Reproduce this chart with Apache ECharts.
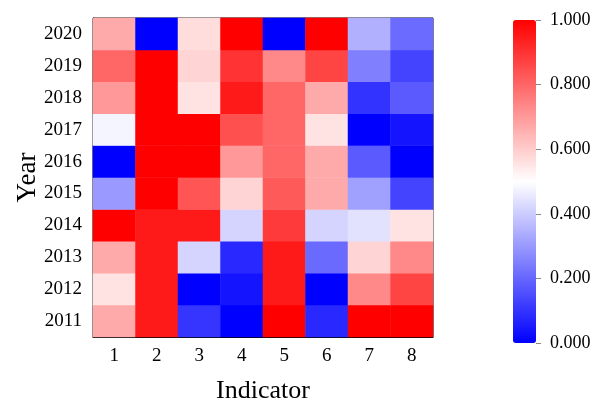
<!DOCTYPE html>
<html><head><meta charset="utf-8">
<script src="https://cdn.jsdelivr.net/npm/echarts@6/dist/echarts.min.js"></script>
<style>html,body{margin:0;padding:0;background:#fff}#c{width:598px;height:409px}</style>
</head><body><div id="c"></div>
<script>
const indicators = ['1','2','3','4','5','6','7','8'];
const years = ['2011','2012','2013','2014','2015','2016','2017','2018','2019','2020'];
const colorTicks = [0, 0.2, 0.4, 0.6, 0.8, 1.0];
// rows by year (2011..2020), values for indicators 1..8
const v2011 = [0.667, 0.95, 0.104, 0.0, 1.0, 0.078, 1.0, 1.0];
const v2012 = [0.557, 0.95, 0.0, 0.04, 0.95, 0.0, 0.733, 0.867];
const v2013 = [0.667, 0.95, 0.416, 0.078, 0.95, 0.208, 0.584, 0.733];
const v2014 = [1.0, 0.95, 0.95, 0.416, 0.886, 0.416, 0.443, 0.557];
const v2015 = [0.30, 1.0, 0.833, 0.584, 0.824, 0.667, 0.314, 0.133];
const v2016 = [0.0, 1.0, 1.0, 0.70, 0.80, 0.667, 0.176, 0.0];
const v2017 = [0.48, 1.0, 1.0, 0.843, 0.80, 0.557, 0.0, 0.04];
const v2018 = [0.70, 1.0, 0.557, 0.95, 0.80, 0.667, 0.10, 0.176];
const v2019 = [0.80, 1.0, 0.584, 0.90, 0.733, 0.867, 0.25, 0.133];
const v2020 = [0.667, 0.0, 0.567, 1.0, 0.0, 1.0, 0.345, 0.21];
const rows = [v2011, v2012, v2013, v2014, v2015, v2016, v2017, v2018, v2019, v2020];

const data = [];
rows.forEach((r, yi) => r.forEach((v, xi) => data.push([xi, yi, v])));

const font = 'Liberation Serif';
const chart = echarts.init(document.getElementById('c'), null, {renderer: 'canvas'});
chart.setOption({
  animation: false,
  textStyle: {fontFamily: font},
  grid: [
    {left: 93, right: 165, top: 18, bottom: 66, show: true, borderColor: '#000', borderWidth: 1, backgroundColor: 'transparent'},
    {left: 536, width: 5, top: 20, height: 323, show: false}
  ],
  xAxis: [
    {type: 'category', data: indicators, gridIndex: 0,
     name: 'Indicator', nameLocation: 'middle', nameGap: 41, nameMoveOverlap: false,
     nameTextStyle: {fontFamily: font, fontSize: 26, color: '#000'},
     axisLine: {lineStyle: {color: '#000', width: 1}},
     axisTick: {alignWithLabel: true, length: 5, lineStyle: {color: '#000'}},
     axisLabel: {fontFamily: font, fontSize: 19, color: '#000', margin: 10},
     splitLine: {show: false}},
    {type: 'value', gridIndex: 1, show: false, min: 0, max: 1}
  ],
  yAxis: [
    {type: 'category', data: years, gridIndex: 0,
     name: 'Year', nameLocation: 'middle', nameGap: 52, nameMoveOverlap: false,
     nameTextStyle: {fontFamily: font, fontSize: 27, color: '#000'},
     axisLine: {lineStyle: {color: '#000', width: 1}},
     axisTick: {alignWithLabel: true, length: 5, lineStyle: {color: '#000'}},
     axisLabel: {fontFamily: font, fontSize: 19, color: '#000', margin: 11},
     splitLine: {show: false}},
    {type: 'value', gridIndex: 1, position: 'right', min: 0, max: 1, interval: 0.2,
     axisLine: {show: false},
     axisTick: {show: false},
     axisLabel: {fontFamily: font, fontSize: 18, color: '#000', margin: 9,
       formatter: v => colorTicks.reduce((a, t) => Math.abs(t - v) < 1e-6 ? t : a, v).toFixed(3)},
     splitLine: {show: true, lineStyle: {color: '#888', width: 1}}}
  ],
  visualMap: {
    type: 'continuous', min: 0, max: 1, calculable: false, show: true,
    left: 513, top: 20, itemWidth: 23, itemHeight: 323, padding: 0,
    text: ['', ''], showLabel: false, hoverLink: false,
    inRange: {color: ['#0000ff', '#ffffff', '#ff0000']},
    seriesIndex: 0
  },
  series: [
    {type: 'heatmap', xAxisIndex: 0, yAxisIndex: 0, data: data, itemStyle: {borderWidth: 0}, emphasis: {disabled: true}},
    {type: 'scatter', xAxisIndex: 1, yAxisIndex: 1, data: [[0.5, 0.5]], silent: true, symbolSize: 0, itemStyle: {opacity: 0}}
  ]
});
</script></body></html>
